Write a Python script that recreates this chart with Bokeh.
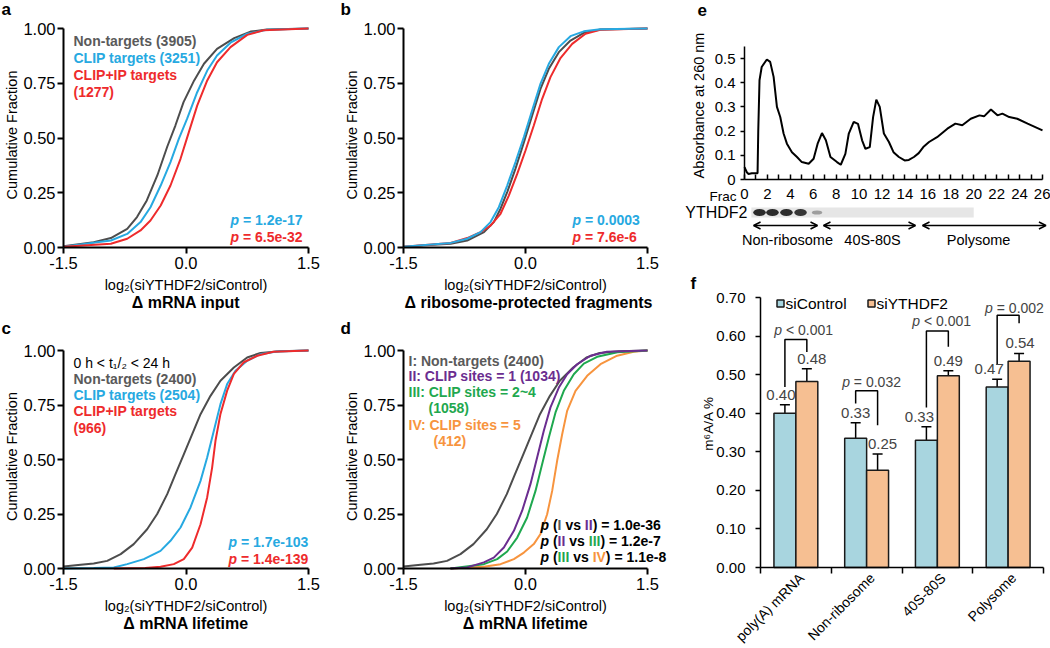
import math
from bokeh.plotting import figure
from bokeh.layouts import row, column
from bokeh.models import (Range1d, FixedTicker, NumeralTickFormatter, Label, ColumnDataSource,
                          Whisker, TeeHead, Arrow, OpenHead)
from bokeh.embed import file_html
from bokeh.resources import INLINE

# ---------------- data ----------------
# panel a : delta mRNA input
a_non_x = [-1.5, -1.13, -0.92, -0.72, -0.60, -0.48, -0.35, -0.23, -0.13, -0.03, 0.10, 0.22, 0.38, 0.59, 0.79, 0.99, 1.5]
a_non_y = [0.006, 0.024, 0.043, 0.085, 0.139, 0.215, 0.33, 0.46, 0.557, 0.664, 0.763, 0.839, 0.907, 0.956, 0.986, 0.995, 1.0]
a_clip_x = [-1.5, -0.92, -0.72, -0.557, -0.435, -0.31, -0.19, -0.088, 0.014, 0.137, 0.26, 0.38, 0.545, 0.75, 0.99, 1.5]
a_clip_y = [0.004, 0.032, 0.062, 0.116, 0.184, 0.283, 0.39, 0.496, 0.588, 0.709, 0.808, 0.877, 0.935, 0.976, 0.994, 1.0]
a_cip_x = [-1.5, -0.92, -0.72, -0.557, -0.435, -0.31, -0.19, -0.067, 0.035, 0.137, 0.26, 0.38, 0.545, 0.75, 0.95, 1.5]
a_cip_y = [0.003, 0.017, 0.04, 0.078, 0.123, 0.192, 0.283, 0.405, 0.527, 0.648, 0.763, 0.846, 0.915, 0.971, 0.992, 1.0]

# panel b : delta ribosome-protected fragments
b_non_x = [-1.5, -0.92, -0.717, -0.51, -0.39, -0.307, -0.225, -0.123, -0.02, 0.082, 0.184, 0.287, 0.41, 0.553, 0.717, 0.92, 1.5]
b_non_y = [0.004, 0.017, 0.032, 0.07, 0.116, 0.177, 0.253, 0.36, 0.48, 0.603, 0.724, 0.816, 0.892, 0.945, 0.98, 0.995, 1.0]
b_clip_x = [-1.5, -0.92, -0.717, -0.553, -0.43, -0.328, -0.225, -0.123, -0.02, 0.082, 0.184, 0.287, 0.41, 0.553, 0.717, 0.92, 1.5]
b_clip_y = [0.004, 0.021, 0.04, 0.07, 0.116, 0.184, 0.283, 0.39, 0.504, 0.626, 0.747, 0.839, 0.915, 0.965, 0.987, 0.997, 1.0]
b_cip_x = [-1.5, -0.92, -0.717, -0.553, -0.43, -0.307, -0.205, -0.102, 0.0, 0.102, 0.205, 0.307, 0.43, 0.574, 0.738, 0.92, 1.5]
b_cip_y = [0.004, 0.021, 0.043, 0.07, 0.1, 0.154, 0.237, 0.336, 0.443, 0.557, 0.679, 0.778, 0.865, 0.93, 0.976, 0.994, 1.0]

# panel c / d : delta mRNA lifetime
c_non_x = [-1.5, -1.29, -1.13, -0.965, -0.8, -0.64, -0.476, -0.353, -0.23, -0.129, -0.027, 0.076, 0.178, 0.3, 0.422, 0.586, 0.749, 0.912, 1.15, 1.5]
c_non_y = [0.009, 0.017, 0.023, 0.035, 0.066, 0.112, 0.18, 0.25, 0.341, 0.433, 0.524, 0.616, 0.708, 0.792, 0.861, 0.922, 0.968, 0.989, 0.997, 1.0]
c_clip_x = [-1.5, -1.13, -0.884, -0.72, -0.516, -0.312, -0.19, -0.067, 0.055, 0.178, 0.259, 0.341, 0.422, 0.504, 0.606, 0.749, 0.912, 1.11, 1.5]
c_clip_y = [0.0, 0.002, 0.005, 0.02, 0.043, 0.081, 0.127, 0.188, 0.28, 0.402, 0.509, 0.632, 0.754, 0.846, 0.907, 0.953, 0.983, 0.995, 1.0]
c_cip_x = [-0.884, -0.5, -0.312, -0.149, -0.027, 0.076, 0.178, 0.259, 0.32, 0.361, 0.422, 0.504, 0.586, 0.708, 0.871, 1.07, 1.5]
c_cip_y = [0.0, 0.002, 0.008, 0.02, 0.043, 0.096, 0.203, 0.326, 0.463, 0.586, 0.709, 0.816, 0.893, 0.946, 0.976, 0.994, 1.0]
d_s1_x = [-0.922, -0.717, -0.512, -0.39, -0.266, -0.143, -0.041, 0.061, 0.143, 0.225, 0.307, 0.41, 0.512, 0.635, 0.799, 1.0, 1.5]
d_s1_y = [0.0, 0.005, 0.028, 0.05, 0.096, 0.173, 0.265, 0.387, 0.509, 0.632, 0.739, 0.83, 0.891, 0.937, 0.976, 0.994, 1.0]
d_s24_x = [-0.922, -0.512, -0.348, -0.225, -0.102, 0.02, 0.123, 0.205, 0.287, 0.369, 0.471, 0.594, 0.717, 0.881, 1.13, 1.5]
d_s24_y = [0.0, 0.02, 0.043, 0.078, 0.142, 0.234, 0.356, 0.479, 0.601, 0.716, 0.815, 0.891, 0.94, 0.971, 0.992, 1.0]
d_s5_x = [-0.922, -0.512, -0.307, -0.143, -0.02, 0.102, 0.184, 0.266, 0.328, 0.389, 0.451, 0.512, 0.615, 0.758, 0.922, 1.127, 1.33, 1.5]
d_s5_y = [0.0, 0.008, 0.02, 0.043, 0.073, 0.112, 0.158, 0.249, 0.356, 0.494, 0.616, 0.723, 0.815, 0.884, 0.937, 0.976, 0.994, 1.0]

# panel e : polysome profile
frac = [0, 0.2, 0.35, 0.64, 1.14, 1.2, 1.31, 1.5, 1.95, 2.24, 2.54, 2.83, 3.12, 3.41, 3.7, 4.14, 4.58, 5.0,
        5.6, 6.03, 6.38, 6.76, 7.1, 7.5, 8.07, 8.4, 8.8, 9.1, 9.53, 9.9, 10.26, 10.55, 10.93, 11.22, 11.5,
        11.8, 12.16, 12.6, 13.0, 13.47, 13.97, 14.34, 14.78, 15.2, 15.6, 16.1, 16.8, 17.7, 18.4, 19.0,
        19.74, 20.5, 20.9, 21.5, 22.07, 22.5, 23.1, 23.8, 24.7, 26]
absorb = [0.051, 0.03, 0.023, 0.026, 0.026, 0.2, 0.41, 0.465, 0.496, 0.486, 0.424, 0.30, 0.258, 0.19, 0.148,
          0.113, 0.093, 0.072, 0.065, 0.086, 0.148, 0.192, 0.162, 0.093, 0.072, 0.061, 0.106, 0.19, 0.238,
          0.23, 0.162, 0.127, 0.134, 0.258, 0.33, 0.30, 0.19, 0.155, 0.113, 0.093, 0.079, 0.081, 0.093,
          0.109, 0.134, 0.155, 0.175, 0.21, 0.231, 0.224, 0.251, 0.265, 0.261, 0.289, 0.265, 0.272, 0.258,
          0.251, 0.231, 0.203]
blot_lane = [1.31, 2.44, 3.66, 4.89, 6.33]
blot_level = [0.95, 0.95, 0.95, 0.9, 0.35]
blot_span = [0.6, 20.0]
region_names = ["Non-ribosome", "40S-80S", "Polysome"]
region_start = [0.79, 6.89, 15.53]
region_end = [6.37, 14.92, 26.3]
region_label_x = [3.75, 11.17, 20.42]

# panel f : m6A/A %
groups = ["poly(A) mRNA", "Non-ribosome", "40S-80S", "Polysome"]
ctrl_mean = [0.40, 0.335, 0.33, 0.468]
ctrl_err = [0.022, 0.040, 0.035, 0.020]
kd_mean = [0.482, 0.252, 0.497, 0.535]
kd_err = [0.033, 0.042, 0.013, 0.020]
ctrl_text = ["0.40", "0.33", "0.33", "0.47"]
kd_text = ["0.48", "0.25", "0.49", "0.54"]
ctrl_text_dx = [-4, 0, -7, -8]
kd_text_dx = [5, 5, 0, 1]
p_text = ["< 0.001", "= 0.032", "< 0.001", "= 0.002"]
p_text_x = [0.61, 1.57, 2.56, 3.59]
p_text_y = [0.615, 0.481, 0.64, 0.672]
br_top = [0.591, 0.458, 0.613, 0.654]
br_left_bot = [0.468, 0.425, 0.415, 0.525]
br_right_bot = [0.559, 0.369, 0.572, 0.633]

# ---------------- style ----------------
FONT = "Liberation Sans"
GRAY = "#4D4D4D"; GRAYT = "#5A5A5A"; BLUE = "#27A9E1"; RED = "#EE2B2C"
PURPLE = "#6B2D90"; GREEN = "#1FA84F"; ORANGE = "#F7943E"
CTRL_C = "#A8D5DF"; KD_C = "#F6BF92"

BW = {' ': 278, '(': 333, ')': 333, '=': 584, '.': 278, '-': 333, 'I': 278, 'V': 667,
      'v': 556, 's': 556, 'e': 556, 'p': 611}
RW = {' ': 278, '<': 584, '=': 584, '.': 278, 'p': 556}


def width(s, size, table):
    return sum(table.get(c, 556) for c in s) * size / 1000.0


class Geo:
    """canvas (cx, cy, w, h) in page px; plot area ax0..ax1 / ay0(top)..ay1(bottom) <-> xr / yr"""
    def __init__(self, cx, cy, w, h, ax0, ax1, ay0, ay1, xr, yr):
        self.cx, self.cy, self.w, self.h = cx, cy, w, h
        self.ax0, self.ay1, self.xr, self.yr = ax0, ay1, xr, yr
        self.kx = (xr[1] - xr[0]) / float(ax1 - ax0)
        self.ky = (yr[1] - yr[0]) / float(ay1 - ay0)

    def X(self, px):
        return self.xr[0] + (px - self.ax0) * self.kx

    def Y(self, py):
        return self.yr[0] + (self.ay1 - py) * self.ky


def mkfig(g):
    p = figure(width=g.w, height=g.h,
               x_range=Range1d(g.X(g.cx), g.X(g.cx + g.w)),
               y_range=Range1d(g.Y(g.cy + g.h), g.Y(g.cy)),
               min_border=0, min_border_left=0, min_border_right=0, min_border_top=0,
               min_border_bottom=0, output_backend="svg", toolbar_location=None)
    p.outline_line_color = None
    p.xgrid.grid_line_color = None
    p.ygrid.grid_line_color = None
    p.background_fill_color = "white"
    p.border_fill_color = "white"
    return p


def label(p, g, px, py, text, size, color="black", style="normal", align="left",
          baseline="middle", angle=0.0, xoff=0.0, data=False):
    x, y = (px, py) if data else (g.X(px), g.Y(py))
    p.add_layout(Label(x=x, y=y, text=text, text_font=FONT, text_font_size=f"{size}px",
                       text_color=color, text_font_style=style, text_align=align,
                       text_baseline=baseline, angle=angle, x_offset=xoff))


def segs(p, g, px, py, parts, size):
    off = 0.0
    for s, col, style in parts:
        lead = len(s) - len(s.lstrip(" "))
        trail = len(s) - len(s.rstrip(" "))
        core = s.strip(" ")
        off += lead * 278 * size / 1000.0
        label(p, g, px, py, core, size, col, style, xoff=off)
        off += width(core, size, BW) + trail * 278 * size / 1000.0


def pval(p, g, px, py, rest, color, size=14):
    segs(p, g, px, py, [("p ", color, "bold italic"), ("= " + rest, color, "bold")], size)


def style_axis(ax, size, tick_out=6, tick_in=0, standoff=3, lw=2):
    ax.axis_line_width = lw
    ax.axis_line_color = "black"
    ax.major_tick_line_width = lw
    ax.major_tick_line_color = "black"
    ax.major_tick_out = tick_out
    ax.major_tick_in = tick_in
    ax.minor_tick_line_color = None
    ax.major_label_text_font = FONT
    ax.major_label_text_font_size = f"{size}px"
    ax.major_label_text_color = "black"
    ax.major_label_standoff = standoff


def cdf_fig(g, curves, letter, letter_px, letter_py, title, title_dx=0):
    p = mkfig(g)
    for xs, ys, col in curves:
        p.line(xs, ys, line_color=col, line_width=2)
    p.xaxis.fixed_location = 0
    p.yaxis.fixed_location = -1.5
    p.xaxis.bounds = (-1.5, 1.5)
    p.yaxis.bounds = (0, 1)
    p.xaxis.ticker = FixedTicker(ticks=[-1.5, 0, 1.5])
    p.xaxis.formatter = NumeralTickFormatter(format="0.0")
    p.yaxis.ticker = FixedTicker(ticks=[0, 0.25, 0.5, 0.75, 1.0])
    p.yaxis.formatter = NumeralTickFormatter(format="0.00")
    style_axis(p.xaxis, 16.5, standoff=3)
    style_axis(p.yaxis, 16.5, standoff=2)
    ax0 = g.ax0
    ax1 = ax0 + 3.0 / g.kx
    cx = (ax0 + ax1) / 2.0
    ybot = g.ay1
    ytop = ybot - 1.0 / g.ky
    label(p, g, letter_px, letter_py, letter, 17, style="bold")
    label(p, g, ax0 - 52, (ytop + ybot) / 2.0 - 3, "Cumulative Fraction", 14.5,
          align="center", angle=math.pi / 2)
    label(p, g, cx, ybot + 37, "log\u2082(siYTHDF2/siControl)", 14.5, align="center")
    label(p, g, cx + title_dx, ybot + 55, title, 16, style="bold", align="center")
    return p


# ---------------- geometry (page pixels) ----------------
ga = Geo(0, 0, 340, 310, 63, 308, 28, 247, (-1.5, 1.5), (0, 1))
gb = Geo(340, 0, 340, 310, 403, 647, 28, 247, (-1.5, 1.5), (0, 1))
gc = Geo(0, 310, 340, 338, 63, 308, 350, 568, (-1.5, 1.5), (0, 1))
gd = Geo(340, 310, 340, 338, 403, 647, 350, 568, (-1.5, 1.5), (0, 1))
ge = Geo(680, 0, 370, 262, 744, 1042, 58, 179, (0, 26), (0, 0.5))
gf = Geo(680, 262, 370, 386, 760, 1043, 297, 567, (0, 4), (0, 0.7))

# ---------------- panel a ----------------
pa = cdf_fig(ga, [(a_non_x, a_non_y, GRAY), (a_clip_x, a_clip_y, BLUE), (a_cip_x, a_cip_y, RED)],
             "a", 1, 9, "\u0394 mRNA input")
for txt, col, yy in [("Non-targets (3905)", GRAYT, 40), ("CLIP targets (3251)", BLUE, 57),
                     ("CLIP+IP targets", RED, 74), ("(1277)", RED, 91)]:
    label(pa, ga, 73, yy, txt, 14, col, "bold")
pval(pa, ga, 230, 219, "1.2e-17", BLUE)
pval(pa, ga, 230, 236, "6.5e-32", RED)

# ---------------- panel b ----------------
pb = cdf_fig(gb, [(b_non_x, b_non_y, GRAY), (b_cip_x, b_cip_y, RED), (b_clip_x, b_clip_y, BLUE)],
             "b", 340, 9, "\u0394 ribosome-protected fragments", title_dx=3)
pval(pb, gb, 572, 219, "0.0003", BLUE)
pval(pb, gb, 572, 236, "7.6e-6", RED)

# ---------------- panel c ----------------
pc = cdf_fig(gc, [(c_non_x, c_non_y, GRAY), (c_clip_x, c_clip_y, BLUE), (c_cip_x, c_cip_y, RED)],
             "c", 1, 328, "\u0394 mRNA lifetime")
label(pc, gc, 73, 362, "0 h < t\u2081/\u2082 < 24 h", 14)
for txt, col, yy in [("Non-targets (2400)", GRAYT, 378), ("CLIP targets (2504)", BLUE, 394),
                     ("CLIP+IP targets", RED, 410), ("(966)", RED, 427)]:
    label(pc, gc, 73, yy, txt, 14, col, "bold")
pval(pc, gc, 228, 541, "1.7e-103", BLUE)
pval(pc, gc, 228, 558, "1.4e-139", RED)

# ---------------- panel d ----------------
pd = cdf_fig(gd, [(c_non_x, c_non_y, GRAY), (d_s5_x, d_s5_y, ORANGE), (d_s24_x, d_s24_y, GREEN),
                  (d_s1_x, d_s1_y, PURPLE)],
             "d", 340, 328, "\u0394 mRNA lifetime")
for txt, col, xx, yy in [("I: Non-targets (2400)", GRAYT, 408, 360),
                         ("II: CLIP sites = 1 (1034)", PURPLE, 408, 375),
                         ("III: CLIP sites = 2~4", GREEN, 408, 391),
                         ("(1058)", GREEN, 428, 407),
                         ("IV: CLIP sites = 5", ORANGE, 408, 424),
                         ("(412)", ORANGE, 433, 440)]:
    label(pd, gd, xx, yy, txt, 14, col, "bold")
K = "black"
segs(pd, gd, 540, 524, [("p ", K, "bold italic"), ("(", K, "bold"), ("I ", GRAYT, "bold"),
                        ("vs ", K, "bold"), ("II", PURPLE, "bold"), (") = 1.0e-36", K, "bold")], 14)
segs(pd, gd, 540, 540, [("p ", K, "bold italic"), ("(", K, "bold"), ("II ", PURPLE, "bold"),
                        ("vs ", K, "bold"), ("III", GREEN, "bold"), (") = 1.2e-7", K, "bold")], 14)
segs(pd, gd, 540, 556, [("p ", K, "bold italic"), ("(", K, "bold"), ("III ", GREEN, "bold"),
                        ("vs ", K, "bold"), ("IV", ORANGE, "bold"), (") = 1.1e-8", K, "bold")], 14)

# ---------------- panel e ----------------
pe = mkfig(ge)
pe.line(frac, absorb, line_color="black", line_width=2)
pe.xaxis.fixed_location = 0
pe.yaxis.fixed_location = 0
pe.xaxis.bounds = (0, 26)
pe.yaxis.bounds = (0, 0.55)
pe.xaxis.ticker = FixedTicker(ticks=list(range(0, 27, 2)), minor_ticks=list(range(1, 26, 2)))
pe.yaxis.ticker = FixedTicker(ticks=[0, 0.1, 0.2, 0.3, 0.4, 0.5])
pe.yaxis.major_label_overrides = {0: "0", 0.1: "0.1", 0.2: "0.2", 0.3: "0.3", 0.4: "0.4", 0.5: "0.5"}
style_axis(pe.xaxis, 15, tick_out=0, tick_in=5, standoff=9, lw=1.5)
pe.xaxis.minor_tick_line_color = "black"
pe.xaxis.minor_tick_line_width = 1.5
pe.xaxis.minor_tick_in = 5
pe.xaxis.minor_tick_out = 0
style_axis(pe.yaxis, 15, tick_out=4, standoff=5, lw=1.5)
label(pe, ge, 697, 9, "e", 17, style="bold")
label(pe, ge, 698, 105, "Absorbance at 260 nm", 14.5, align="center", angle=math.pi / 2)
label(pe, ge, 736, 196, "Frac", 13.5, align="right")
# western blot strip
blot_y = ge.Y(212)
pe.rect(x=[(blot_span[0] + blot_span[1]) / 2.0], y=[blot_y], width=blot_span[1] - blot_span[0],
        height=10 * ge.ky, fill_color="#E6E6E6", line_color=None)
blot_cols = ["#%02x%02x%02x" % ((int(225 - 190 * v),) * 3) for v in blot_level]
blot_w = [1.1 if v > 0.5 else 0.9 for v in blot_level]
blot_h = [(7 if v > 0.5 else 4) * ge.ky for v in blot_level]
pe.ellipse(x=blot_lane, y=[blot_y] * len(blot_lane), width=blot_w, height=blot_h,
           fill_color=blot_cols, line_color=None)
label(pe, ge, 747, 212, "YTHDF2", 16, align="right")
arrow_y = ge.Y(225)
for s, e in zip(region_start, region_end):
    pe.add_layout(Arrow(x_start=s, y_start=arrow_y, x_end=e, y_end=arrow_y, line_width=1.5,
                        start=OpenHead(size=7, line_width=1.5), end=OpenHead(size=7, line_width=1.5)))
for name, xx in zip(region_names, region_label_x):
    label(pe, ge, xx, ge.Y(239), name, 14.5, align="center", data=True)

# ---------------- panel f ----------------
pf = mkfig(gf)
x_ctrl = [i + 0.345 for i in range(len(groups))]
x_kd = [i + 0.655 for i in range(len(groups))]
r1 = pf.vbar(x=x_ctrl, top=ctrl_mean, width=0.31, fill_color=CTRL_C, line_color="#1a1a1a", line_width=1.5)
r2 = pf.vbar(x=x_kd, top=kd_mean, width=0.31, fill_color=KD_C, line_color="#1a1a1a", line_width=1.5)
src = ColumnDataSource(dict(
    x=x_ctrl + x_kd,
    lo=[m - e for m, e in zip(ctrl_mean, ctrl_err)] + [m - e for m, e in zip(kd_mean, kd_err)],
    hi=[m + e for m, e in zip(ctrl_mean, ctrl_err)] + [m + e for m, e in zip(kd_mean, kd_err)]))
pf.add_layout(Whisker(source=src, base="x", lower="lo", upper="hi", dimension="height",
                      line_width=1.5, line_color="black",
                      upper_head=TeeHead(size=10, line_width=1.5, line_color="black"),
                      lower_head=TeeHead(size=10, line_width=1.5, line_color="black")))
for xs, means, errs, texts, dxs in [(x_ctrl, ctrl_mean, ctrl_err, ctrl_text, ctrl_text_dx),
                                    (x_kd, kd_mean, kd_err, kd_text, kd_text_dx)]:
    for x, m, e, t, dx in zip(xs, means, errs, texts, dxs):
        pf.add_layout(Label(x=x, y=m + e, text=t, text_font=FONT, text_font_size="15px",
                            text_align="center", text_baseline="middle", x_offset=dx, y_offset=10))
pf.multi_line(xs=[[a, a, b, b] for a, b in zip(x_ctrl, x_kd)],
              ys=[[lb, t, t, rb] for lb, t, rb in zip(br_left_bot, br_top, br_right_bot)],
              line_color="black", line_width=1.5)
for t, xx, yy in zip(p_text, p_text_x, p_text_y):
    total = width("p ", 14, RW) + width(t, 14, RW)
    pf.add_layout(Label(x=xx, y=yy, text="p", text_font=FONT, text_font_size="14px",
                        text_font_style="italic", text_align="left", text_baseline="middle",
                        x_offset=-total / 2.0))
    pf.add_layout(Label(x=xx, y=yy, text=t, text_font=FONT, text_font_size="14px",
                        text_align="left", text_baseline="middle",
                        x_offset=-total / 2.0 + width("p ", 14, RW)))
pf.xaxis.fixed_location = 0
pf.yaxis.fixed_location = 0
pf.xaxis.bounds = (0, 4)
pf.yaxis.bounds = (0, 0.7)
# category labels anchored slightly right of each group centre (as in the original)
lab_pos = [i + 0.58 for i in range(len(groups))]
pf.xaxis.ticker = FixedTicker(ticks=lab_pos, minor_ticks=[0, 1, 2, 3, 4])
pf.xaxis.major_label_overrides = {v: g for v, g in zip(lab_pos, groups)}
style_axis(pf.xaxis, 14, tick_out=0, standoff=2, lw=1.5)
pf.xaxis.major_tick_line_color = None
pf.xaxis.minor_tick_line_color = "black"
pf.xaxis.minor_tick_line_width = 1.5
pf.xaxis.minor_tick_out = 6
pf.xaxis.minor_tick_in = 0
pf.xaxis.major_label_orientation = math.pi / 4
pf.yaxis.ticker = FixedTicker(ticks=[0, 0.1, 0.2, 0.3, 0.4, 0.5, 0.6, 0.7])
pf.yaxis.formatter = NumeralTickFormatter(format="0.00")
style_axis(pf.yaxis, 15, tick_out=5, standoff=10, lw=1.5)
label(pf, gf, 708, 423, "m\u2076A/A %", 13.5, align="center", angle=math.pi / 2)
# legend
for name, col, px in [("siControl", CTRL_C, 780), ("siYTHDF2", KD_C, 871)]:
    pf.rect(x=[gf.X(px)], y=[gf.Y(303)], width=7 * gf.kx, height=7 * gf.ky,
            fill_color=col, line_color="#1a1a1a", line_width=1.5)
    label(pf, gf, px + 5, 303, name, 15.5)
label(pf, gf, 690, 283, "f", 17, style="bold")

layout = row(column(pa, pc), column(pb, pd), column(pe, pf))
open("out.html", "w").write(file_html(layout, INLINE))
